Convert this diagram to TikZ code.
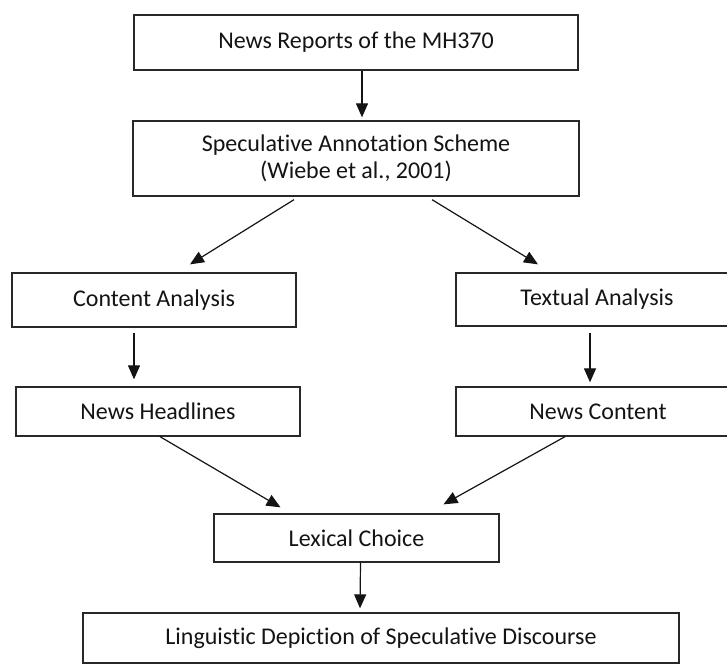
\documentclass[tikz,border=0pt]{standalone}
\usepackage{fontspec}
\setmainfont{Carlito}[Ligatures={NoCommon}]
\usetikzlibrary{arrows.meta}
\definecolor{boxline}{RGB}{40,40,40}
\definecolor{inkblack}{RGB}{20,20,20}
\tikzset{
  stage/.style={draw=boxline,line width=1.3pt,inner sep=0pt,align=center,
    text=inkblack,font=\fontsize{24}{27}\selectfont},
  flow/.style={-{Triangle[length=14pt,width=12pt]},line width=1.2pt,inkblack}
}

\begin{document}
\begin{tikzpicture}[x=1pt,y=-1pt]
        \useasboundingbox (0,0) rectangle (727,664);
        \fill[white] (0,0) rectangle (727,664);

        % stages of the analysis
        \node[stage,minimum width=444pt,minimum height=55pt] (reports)
          at (356,42.5) {News Reports of the MH370};
        \node[stage,minimum width=446pt,minimum height=75pt] (scheme)
          at (356,158.5) {Speculative Annotation Scheme\\(Wiebe et al., 2001)};
        \node[stage,minimum width=284pt,minimum height=54pt] (content)
          at (154,300) {Content Analysis};
        \node[stage,minimum width=282pt,minimum height=53pt] (textual)
          at (597,299.5) {Textual Analysis};
        \node[stage,minimum width=284pt,minimum height=49pt] (headlines)
          at (158,411.5) {News Headlines};
        \node[stage,minimum width=284pt,minimum height=49pt] (newsbody)
          at (598,411.5) {News Content};
        \node[stage,minimum width=285pt,minimum height=48pt] (lexical)
          at (356.5,538) {Lexical Choice};
        \node[stage,minimum width=596pt,minimum height=50pt] (depiction)
          at (381,638) {Linguistic Depiction of Speculative Discourse};

        % arrows
        \draw[flow] ([xshift=6pt]reports.south) -- ([xshift=6pt,yshift=3pt]scheme.north);
        \draw[flow] ([xshift=-62pt,yshift=-3pt]scheme.south)
          -- ([xshift=36pt,yshift=8pt]content.north);
        \draw[flow] ([xshift=76pt,yshift=-3pt]scheme.south)
          -- ([xshift=-59pt,yshift=8pt]textual.north);
        \draw[flow] ([xshift=-20pt,yshift=-5pt]content.south)
          -- ([xshift=-24pt,yshift=7pt]headlines.north);
        \draw[flow] ([xshift=-7pt,yshift=-6pt]textual.south)
          -- ([xshift=-8pt,yshift=4pt]newsbody.north);
        \draw[flow] ([xshift=2pt]headlines.south)
          -- ([xshift=-76pt,yshift=6pt]lexical.north);
        \draw[flow] ([xshift=-33pt]newsbody.south)
          -- ([xshift=87pt,yshift=9pt]lexical.north);
        \draw[flow] ([xshift=4pt]lexical.south)
          -- ([xshift=-21pt,yshift=4pt]depiction.north);
      \end{tikzpicture}
\end{document}
